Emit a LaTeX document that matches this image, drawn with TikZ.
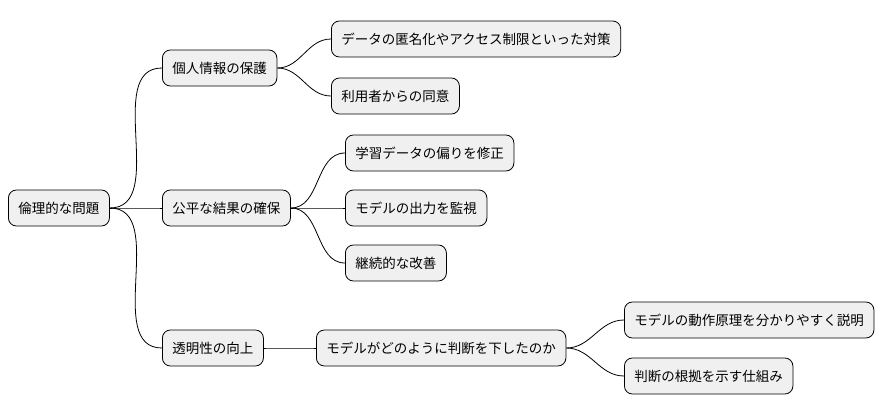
\documentclass[tikz,border=0pt]{standalone}
\usepackage{fontspec}
\setmainfont{Noto Sans CJK JP}
\begin{document}
\begin{tikzpicture}[x=1pt,y=-1pt,
  box/.style={draw=black,line width=0.8pt,fill=black!6,rounded corners=8pt,
    minimum height=36pt,inner xsep=10pt,anchor=west,font=\fontsize{13.5pt}{16pt}\selectfont},
  con/.style={draw=black,line width=0.8pt}]
\useasboundingbox (0,0) rectangle (894,415);
\node[box] (r) at (8,208) {倫理的な問題};
\node[box] (a) at (162,68) {個人情報の保護};
\node[box] (a1) at (331,39) {データの匿名化やアクセス制限といった対策};
\node[box] (a2) at (331,96) {利用者からの同意};
\node[box] (b) at (162,208) {公平な結果の確保};
\node[box] (b1) at (345,153) {学習データの偏りを修正};
\node[box] (b2) at (345,208) {モデルの出力を監視};
\node[box] (b3) at (345,263) {継続的な改善};
\node[box] (c) at (162,348) {透明性の向上};
\node[box] (c1) at (316,348) {モデルがどのように判断を下したのか};
\node[box] (c11) at (624,320) {モデルの動作原理を分かりやすく説明};
\node[box] (c12) at (624,376) {判断の根拠を示す仕組み};
\foreach \p/\c in {r/a,r/b,r/c,a/a1,a/a2,b/b1,b/b2,b/b3,c/c1,c1/c11,c1/c12}
  \draw[con] (\p.east) to[out=0,in=180] (\c.west);
\end{tikzpicture}
\end{document}
